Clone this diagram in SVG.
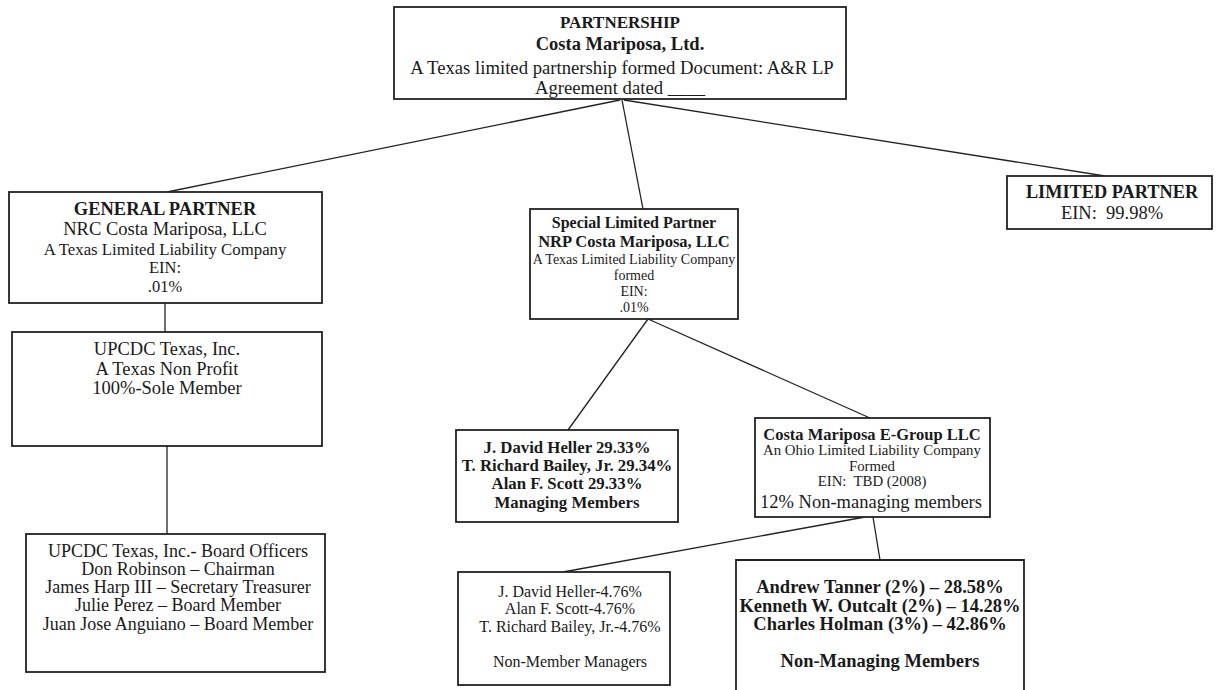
<svg xmlns="http://www.w3.org/2000/svg" width="1221" height="690" viewBox="0 0 1221 690">
<style>
.box{fill:#fff;stroke:#222;stroke-width:1.8}
.c{fill:none;stroke:#222;stroke-width:1.3}
text{font-family:"Liberation Serif","Times New Roman",serif;fill:#1a1a1a;text-anchor:middle}
.b{font-weight:bold}
</style>
<rect width="1221" height="690" fill="#fff"/>
<g id="connectors">
<line class="c" x1="620" y1="100" x2="167" y2="192"/>
<line class="c" x1="622" y1="100" x2="643" y2="209"/>
<line class="c" x1="624" y1="100" x2="1105" y2="176"/>
<line class="c" x1="165" y1="303" x2="165" y2="332"/>
<line class="c" x1="167" y1="446" x2="167" y2="534"/>
<line class="c" x1="648" y1="319" x2="568" y2="430"/>
<line class="c" x1="648" y1="319" x2="870" y2="418"/>
<line class="c" x1="865" y1="517" x2="563" y2="572"/>
<line class="c" x1="873" y1="517" x2="880" y2="560"/>
</g>
<g id="partnership">
<rect class="box" x="394" y="7" width="452" height="92"/>
<text x="620" y="28" class="b" font-size="17">PARTNERSHIP</text>
<text x="620" y="50" class="b" font-size="18.5">Costa Mariposa, Ltd.</text>
<text x="622" y="74" font-size="18.7">A Texas limited partnership formed Document: A&amp;R LP</text>
<text x="620" y="94" font-size="18.7">Agreement dated ____</text>
</g>
<g id="general-partner">
<rect class="box" x="9" y="192" width="313" height="111"/>
<text x="165" y="215" class="b" font-size="18.5">GENERAL PARTNER</text>
<text x="165" y="235" font-size="18.5">NRC Costa Mariposa, LLC</text>
<text x="165" y="255" font-size="16.8">A Texas Limited Liability Company</text>
<text x="165" y="273" font-size="16.5">EIN:</text>
<text x="165" y="292" font-size="16.5">.01%</text>
</g>
<g id="special-limited-partner">
<rect class="box" x="530" y="209" width="208" height="110"/>
<text x="634" y="228" class="b" font-size="16">Special Limited Partner</text>
<text x="634" y="247" class="b" font-size="16.5">NRP Costa Mariposa, LLC</text>
<text x="634" y="264" font-size="14">A Texas Limited Liability Company</text>
<text x="634" y="280" font-size="14">formed</text>
<text x="634" y="296" font-size="14">EIN:</text>
<text x="634" y="312" font-size="14">.01%</text>
</g>
<g id="limited-partner">
<rect class="box" x="1007" y="176" width="205" height="53"/>
<text x="1112" y="198" class="b" font-size="18.3">LIMITED PARTNER</text>
<text x="1112" y="219" font-size="18.5">EIN:&#160; 99.98%</text>
</g>
<g id="upcdc">
<rect class="box" x="12" y="332" width="310" height="114"/>
<text x="167" y="355" font-size="18.5">UPCDC Texas, Inc.</text>
<text x="167" y="375" font-size="18.5">A Texas Non Profit</text>
<text x="167" y="394" font-size="18.5">100%-Sole Member</text>
</g>
<g id="board-officers">
<rect class="box" x="26" y="534" width="299" height="138"/>
<text x="178" y="557" font-size="18">UPCDC Texas, Inc.- Board Officers</text>
<text x="178" y="575" font-size="18">Don Robinson – Chairman</text>
<text x="178" y="593" font-size="18">James Harp III – Secretary Treasurer</text>
<text x="178" y="611" font-size="18">Julie Perez – Board Member</text>
<text x="178" y="630" font-size="18">Juan Jose Anguiano – Board Member</text>
</g>
<g id="managing-members">
<rect class="box" x="456" y="430" width="222" height="92"/>
<text x="567" y="453" class="b" font-size="16.8">J. David Heller 29.33%</text>
<text x="567" y="471" class="b" font-size="16.8">T. Richard Bailey, Jr. 29.34%</text>
<text x="567" y="489" class="b" font-size="16.8">Alan F. Scott 29.33%</text>
<text x="567" y="508" class="b" font-size="16.8">Managing Members</text>
</g>
<g id="e-group">
<rect class="box" x="755" y="418" width="235" height="99"/>
<text x="872" y="440" class="b" font-size="16.5">Costa Mariposa E-Group LLC</text>
<text x="872" y="455" font-size="14.8">An Ohio Limited Liability Company</text>
<text x="872" y="471" font-size="14.8">Formed</text>
<text x="872" y="486" font-size="14.8">EIN:&#160; TBD (2008)</text>
<text x="871" y="508" font-size="18.5">12% Non-managing members</text>
</g>
<g id="non-member-managers">
<rect class="box" x="458" y="572" width="212" height="113"/>
<text x="570" y="597" font-size="16">J. David Heller-4.76%</text>
<text x="570" y="614" font-size="16">Alan F. Scott-4.76%</text>
<text x="570" y="632" font-size="16">T. Richard Bailey, Jr.-4.76%</text>
<text x="570" y="667" font-size="16">Non-Member Managers</text>
</g>
<g id="non-managing-members">
<path class="box" d="M736,692 V560 H1024 V692"/>
<text x="880" y="593" class="b" font-size="18.5">Andrew Tanner (2%) – 28.58%</text>
<text x="880" y="612" class="b" font-size="18.5">Kenneth W. Outcalt (2%) – 14.28%</text>
<text x="880" y="630" class="b" font-size="18.5">Charles Holman (3%) – 42.86%</text>
<text x="880" y="667" class="b" font-size="18.5">Non-Managing Members</text>
</g>
</svg>
